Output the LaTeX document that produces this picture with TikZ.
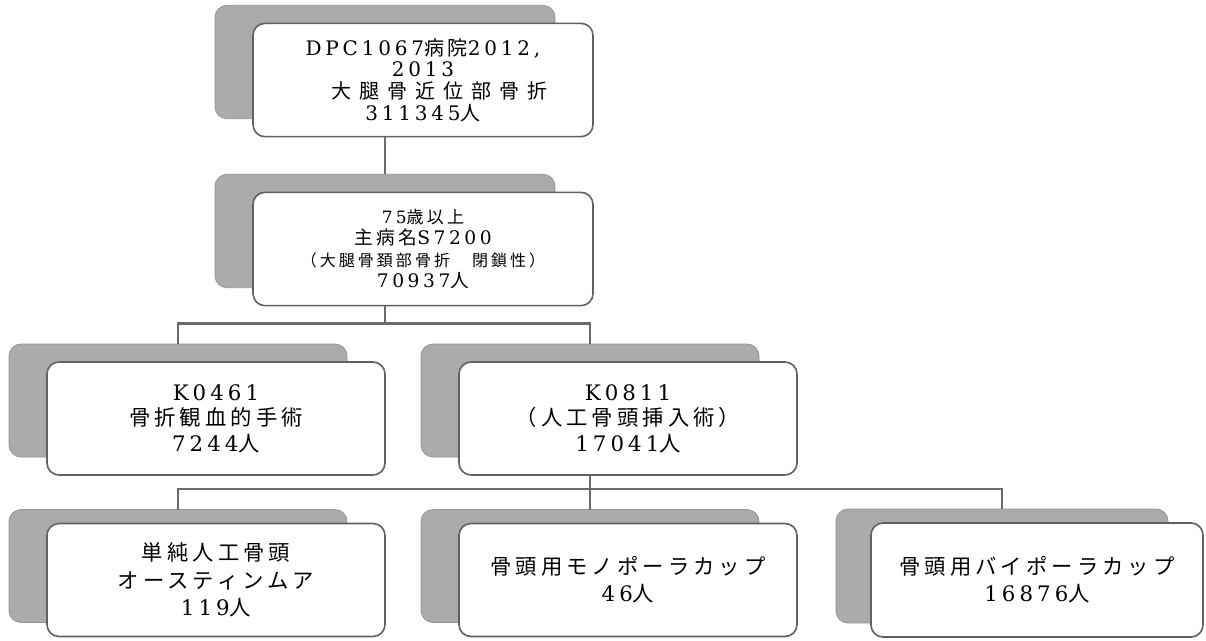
\documentclass[tikz,border=0pt]{standalone}
\usepackage{fontspec}
\setmainfont[LetterSpace=19]{DejaVu Serif}
\newfontfamily\jp[LetterSpace=19]{Noto Sans CJK JP}
\newfontfamily\jpw[LetterSpace=40]{Noto Sans CJK JP}
\tikzset{
  backbox/.style={fill=black!33, draw=black!42, line width=0.6pt, rounded corners=9pt,
    inner sep=0pt, outer sep=0pt},
  wbox/.style={fill=white, draw=black!62, line width=1.2pt, rounded corners=9pt,
    inner sep=0pt, outer sep=0pt, align=center},
  conn/.style={draw=black!58, line width=1.8pt},
  sizeA/.style={minimum width=255pt, minimum height=85pt},
  sizeB/.style={minimum width=253.5pt, minimum height=84.75pt},
  sizeC/.style={minimum width=249pt, minimum height=85.5pt},
  fA/.style={font=\fontsize{15pt}{16.2pt}\selectfont},
  fB/.style={font=\fontsize{14pt}{16.2pt}\selectfont},
  fC/.style={font=\fontsize{16pt}{19pt}\selectfont},
  fD/.style={font=\fontsize{16pt}{20.5pt}\selectfont},
}
\begin{document}
\begin{tikzpicture}[x=0.75pt, y=-0.75pt]
\useasboundingbox (0,0) rectangle (1206,640);
% back (grey) boxes
\node[backbox, sizeA] (g1) at (385,62) {};
\node[backbox, sizeA] (g2) at (385,231) {};
\node[backbox, sizeB] (g3) at (178,400.5) {};
\node[backbox, sizeB] (g4) at (590,400.5) {};
\node[backbox, sizeB] (g5) at (178,566) {};
\node[backbox, sizeB] (g6) at (590,566) {};
\node[backbox, sizeC] (g7) at (1002,566) {};
% front (white) boxes
\node[wbox, sizeA, fA] (b1) at (423,80)
  {DPC1067{\jp 病院}2012,\\2013\\{\jpw\hspace*{1.6em}大腿骨近位部骨折}\\311345{\jp 人}};
\node[wbox, sizeA, fB] (b2) at (423,249)
  {{\fontsize{12.75pt}{16pt}\selectfont 75{\jp 歳以上}}\\
   {\jp 主病名}S7200\\
   {\fontsize{12pt}{16pt}\selectfont\jp （大腿骨頚部骨折　閉鎖性）}\\
   70937{\jp 人}};
\node[wbox, sizeB, fC] (b3) at (216,418.5)
  {K0461\\{\jp 骨折観血的手術}\\7244{\jp 人}};
\node[wbox, sizeB, fC] (b4) at (628,418.5)
  {K0811\\{\jp （人工骨頭挿入術）}\\17041{\jp 人}};
\node[wbox, sizeB, fD] (b5) at (216,580)
  {{\jp 単純人工骨頭}\\{\jp オースティンムア}\\119{\jp 人}};
\node[wbox, sizeB, fD] (b6) at (628,580)
  {{\jp 骨頭用モノポーラカップ}\\46{\jp 人}};
\node[wbox, sizeC, fD] (b7) at (1037,580)
  {{\jp 骨頭用バイポーラカップ}\\16876{\jp 人}};
% connectors
\draw[conn] (g1.south |- b1.south) -- (g2.north);
\draw[conn] (g2.south |- b2.south) -- ++(0,18) -| (g3.north);
\draw[conn] (g2.south |- b2.south) -- ++(0,18) -| (g4.north);
\draw[conn] (g4.south |- b4.south) -- ++(0,14) -| (g5.north);
\draw[conn] (g4.south |- b4.south) -- ++(0,14) -| (g6.north);
\draw[conn] (g4.south |- b4.south) -- ++(0,14) -| (g7.north);
\end{tikzpicture}
\end{document}
